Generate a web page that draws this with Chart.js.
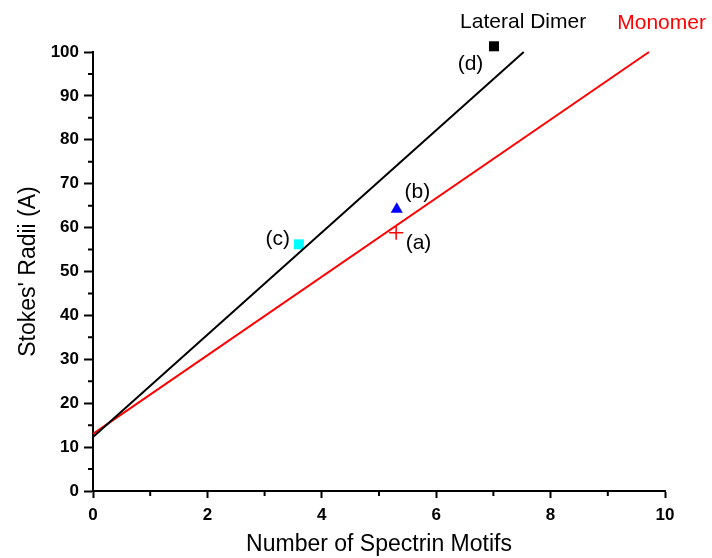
<!DOCTYPE html>
<html><head><meta charset="utf-8">
<script src="https://cdn.jsdelivr.net/npm/chart.js@4/dist/chart.umd.min.js"></script>
<style>html,body{margin:0;padding:0;background:#fff}#wrap{width:712px;height:558px}</style>
</head><body><div id="wrap"><canvas id="c" width="712" height="558"></canvas></div>
<script>
// Fitted lines (endpoints in data units)
const dimerLine = [{x:0,y:12.3},{x:7.53,y:100}];
const monomerLine = [{x:0,y:13.0},{x:9.72,y:100}];
// Measured points
const pointA = [{x:5.30,y:58.8}];   // red plus
const pointB = [{x:5.31,y:64.2}];   // blue triangle
const pointC = [{x:3.60,y:56.2}];   // cyan square
const pointD = [{x:7.01,y:101.3}];  // black square (above the axis top)
// Text annotations (data units)
const labelTexts = ['Lateral Dimer','Monomer','(a)','(b)','(c)','(d)'];
const labelX = [7.52, 9.94, 5.69, 5.67, 3.23, 6.60];
const labelY = [106.8, 106.6, 56.5, 68.0, 57.4, 97.3];
const labelColors = ['#000','#ff0000','#000','#000','#000','#000'];
// Axis ticks
const xMajorStep = 2, xMinorStep = 1;
const yMajorStep = 10, yMinorStep = 5;

const FONT = "'Liberation Sans', Arial, sans-serif";

const extrasPlugin = {
  id:'extras',
  afterDraw(chart){
    const {ctx, scales:{x,y}} = chart;
    ctx.save();
    // minor ticks
    ctx.strokeStyle = '#000';
    ctx.lineWidth = 2;
    ctx.beginPath();
    for (let v = x.min; v <= x.max; v += xMinorStep) {
      if (v % xMajorStep === 0) continue;
      const px = x.getPixelForValue(v);
      ctx.moveTo(px, y.bottom); ctx.lineTo(px, y.bottom + 5);
    }
    for (let v = y.min; v <= y.max; v += yMinorStep) {
      if (v % yMajorStep === 0) continue;
      const py = y.getPixelForValue(v);
      ctx.moveTo(x.left, py); ctx.lineTo(x.left - 5, py);
    }
    ctx.stroke();
    // marker (d) lies above the plotting area, draw it through the scales
    ctx.fillStyle = '#000';
    pointD.forEach(p=>{
      const px = x.getPixelForValue(p.x), py = y.getPixelForValue(p.y);
      ctx.fillRect(px-5, py-5, 10, 10);
    });
    // text labels
    ctx.font = '21px ' + FONT;
    ctx.textAlign = 'center';
    ctx.textBaseline = 'middle';
    labelTexts.forEach((t,i)=>{
      ctx.fillStyle = labelColors[i];
      ctx.fillText(t, x.getPixelForValue(labelX[i]), y.getPixelForValue(labelY[i]));
    });
    ctx.restore();
  }
};

new Chart(document.getElementById('c'), {
  type:'scatter',
  data:{datasets:[
    {data:dimerLine, showLine:true, borderColor:'#000', borderWidth:2, pointRadius:0, clip:false},
    {data:monomerLine, showLine:true, borderColor:'#ff0000', borderWidth:2, pointRadius:0, clip:false},
    {data:pointA, pointStyle:'cross', pointRadius:7, borderColor:'#ff0000', backgroundColor:'#ff0000', pointBorderWidth:1.5, clip:false},
    {data:pointB, pointStyle:'triangle', pointRadius:7, borderColor:'#0000ff', backgroundColor:'#0000ff', pointBorderWidth:0, clip:false},
    {data:pointC, pointStyle:'rect', pointRadius:7, borderColor:'#00ffff', backgroundColor:'#00ffff', pointBorderWidth:0, clip:false}
  ]},
  options:{
    responsive:false, animation:false, devicePixelRatio:1,
    layout:{padding:{left:0,right:47,top:52,bottom:0}},
    plugins:{legend:{display:false}, tooltip:{enabled:false}},
    scales:{
      x:{type:'linear', min:0, max:10,
        afterFit(s){ s.height = 67; },
        border:{color:'#000', width:2},
        grid:{drawOnChartArea:false, drawTicks:true, tickLength:7, tickColor:'#000', tickWidth:2},
        ticks:{stepSize:xMajorStep, autoSkip:false, color:'#000', padding:7, maxRotation:0,
          font:{family:FONT, size:17, weight:'bold'}},
        title:{display:true, text:'Number of Spectrin Motifs', color:'#000', font:{family:FONT, size:23}, padding:{top:0,bottom:0}}
      },
      y:{type:'linear', min:0, max:100,
        afterFit(s){ s.width = 93; },
        border:{color:'#000', width:2},
        grid:{drawOnChartArea:false, drawTicks:true, tickLength:9, tickColor:'#000', tickWidth:2},
        ticks:{stepSize:yMajorStep, autoSkip:false, color:'#000', padding:5,
          font:{family:FONT, size:17, weight:'bold'}},
        title:{display:true, text:"Stokes' Radii (A)", color:'#000', font:{family:FONT, size:23}, padding:{top:15,bottom:0}}
      }
    }
  },
  plugins:[extrasPlugin]
});
</script></body></html>
